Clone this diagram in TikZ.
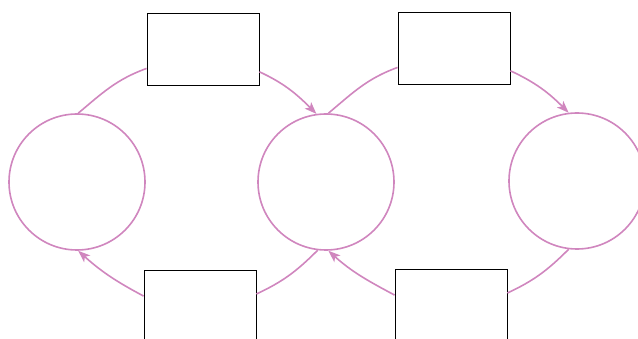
\documentclass[tikz,border=0pt]{standalone}
\usetikzlibrary{arrows.meta}

\definecolor{orquidea}{RGB}{208,134,190}

\begin{document}
\begin{tikzpicture}[x=1pt, y=1pt,
  estado/.style={circle, draw=orquidea, line width=1.6pt, minimum size=136pt, inner sep=0pt},
  caja/.style={rectangle, draw=black, line width=0.9pt, minimum width=112pt, minimum height=72pt, inner sep=0pt},
  flujo/.style={draw=orquidea, line width=1.6pt},
  >={Stealth[length=12pt, width=9pt, inset=3pt]}]
  \useasboundingbox (0,0) rectangle (638,338);

  % Estados (circulos)
  \node[estado] (e1) at (77,156) {};
  \node[estado] (e2) at (326,156) {};
  \node[estado] (e3) at (577,157) {};

  % Transiciones (cajas)
  \node[caja] (t1) at (203,289) {};
  \node[caja] (t2) at (454,290) {};
  \node[caja] (t3) at (200,32) {};
  \node[caja] (t4) at (451,33) {};

  % Arcos superiores, de izquierda a derecha
  \draw[flujo] (e1.89) to[out=40, in=200] (t1.199);
  \draw[flujo, ->] (t1.-22) to[out=-25, in=135] (e2.98);
  \draw[flujo] (e2.88) to[out=40, in=200] (t2.199);
  \draw[flujo, ->] (t2.-22) to[out=-25, in=135] (e3.97);

  % Arcos inferiores, de derecha a izquierda
  \draw[flujo] (e2.263) to[out=225, in=25] (t3.12);
  \draw[flujo, ->] (t3.170) to[out=152, in=-42] (e1.271);
  \draw[flujo] (e3.263) to[out=225, in=25] (t4.12);
  \draw[flujo, ->] (t4.170) to[out=152, in=-42] (e2.272);
\end{tikzpicture}
\end{document}
